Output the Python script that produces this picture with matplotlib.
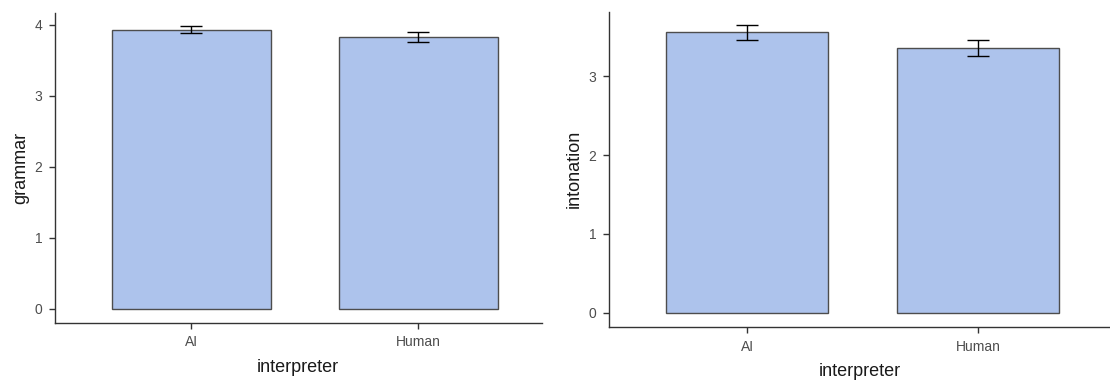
import numpy as np
import matplotlib
matplotlib.use("Agg")
import matplotlib.pyplot as plt

plt.rcParams['font.family'] = ['Liberation Sans', 'DejaVu Sans']

interpreters = ["AI", "Human"]
grammar_mean = [3.93, 3.83]
grammar_se = [0.05, 0.07]
intonation_mean = [3.56, 3.36]
intonation_se = [0.095, 0.10]

bar_color = "#adc3ec"
edge_color = "#4d4d4d"
text_gray = "#4d4d4d"

fig = plt.figure(figsize=(11.1, 3.81), dpi=100)


def bar_panel(rect, means, errs, ylabel, ylim, xlim, yticks):
    ax = fig.add_axes(rect)
    x = np.arange(len(interpreters))
    ax.bar(x, means, width=0.7, color=bar_color, edgecolor=edge_color,
           linewidth=1.0, zorder=2)
    ax.errorbar(x, means, yerr=errs, fmt="none", ecolor="black",
                elinewidth=1.0, capsize=8, capthick=1.0, zorder=3)
    ax.set_xlim(*xlim)
    ax.set_ylim(*ylim)
    ax.set_xticks(x)
    ax.set_xticklabels(interpreters)
    ax.set_yticks(yticks)
    ax.set_ylabel(ylabel, fontsize=13, color="#1a1a1a", labelpad=4)
    ax.set_xlabel("interpreter", fontsize=13, color="#1a1a1a", labelpad=7)
    for side in ["top", "right"]:
        ax.spines[side].set_visible(False)
    for side in ["left", "bottom"]:
        ax.spines[side].set_color("#333333")
        ax.spines[side].set_linewidth(1.0)
    ax.tick_params(axis="both", length=4, width=1.0, color="#333333",
                   labelcolor=text_gray, labelsize=10, pad=5)
    return ax


bar_panel([0.0495, 0.153, 0.4385, 0.8136], grammar_mean, grammar_se,
          "grammar", (-0.193, 4.167), (-0.599, 1.542), [0, 1, 2, 3, 4])
bar_panel([0.5484, 0.1417, 0.4516, 0.8276], intonation_mean, intonation_se,
          "intonation", (-0.181, 3.82), (-0.598, 1.569), [0, 1, 2, 3])

fig.savefig("out.png", dpi=100)
